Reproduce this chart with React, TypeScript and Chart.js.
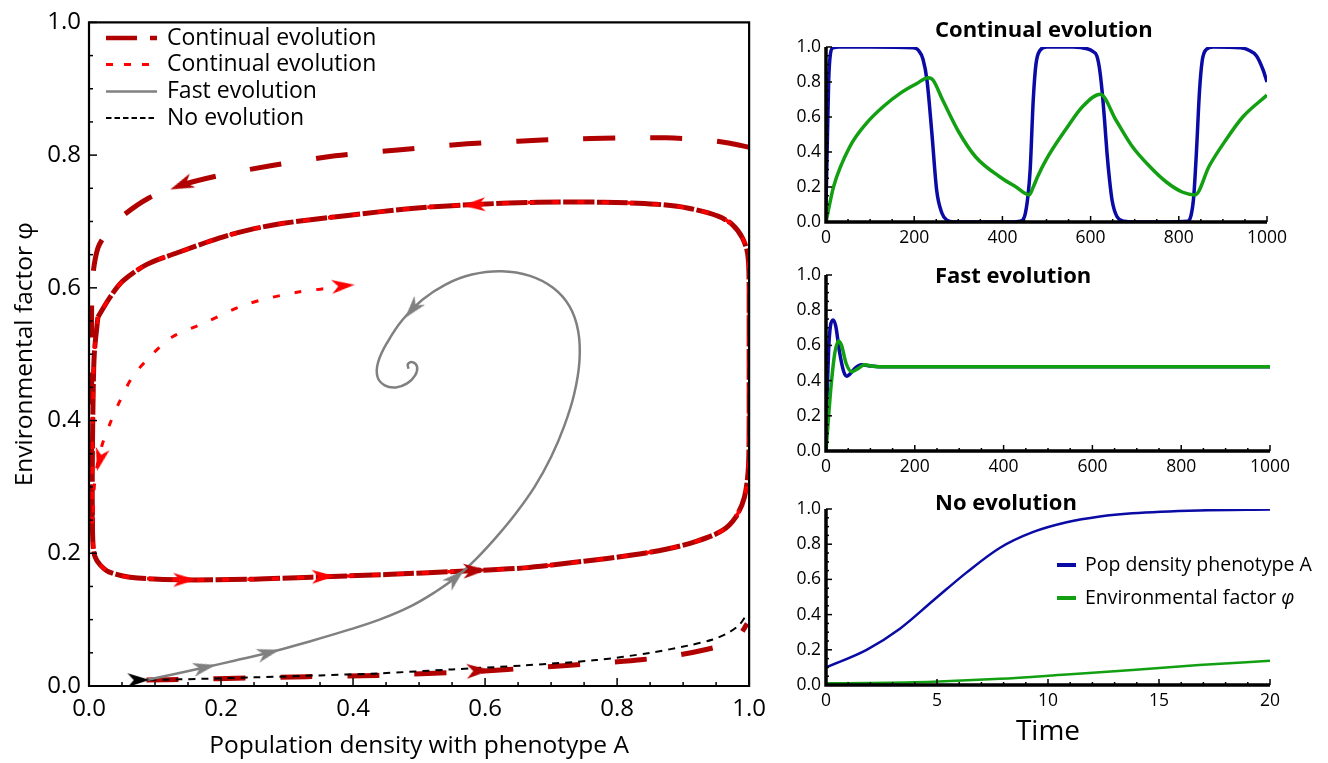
import React, { useEffect, useRef } from 'react';
import { Chart, registerables } from 'chart.js';

Chart.register(...registerables);

const FONT = '"Open Sans", "Noto Sans", sans-serif';

// ---------------- Phase plane (left) data ----------------
const outerTrajectory = [
  { x: 0.999, y: 0.812 }, { x: 0.971, y: 0.818 }, { x: 0.93, y: 0.823 }, { x: 0.874, y: 0.826 },
  { x: 0.8, y: 0.826 }, { x: 0.723, y: 0.824 }, { x: 0.65, y: 0.821 }, { x: 0.573, y: 0.817 },
  { x: 0.472, y: 0.808 }, { x: 0.373, y: 0.799 }, { x: 0.275, y: 0.784 }, { x: 0.2, y: 0.77 },
  { x: 0.137, y: 0.754 }, { x: 0.09, y: 0.735 }, { x: 0.047, y: 0.705 }, { x: 0.025, y: 0.68 },
  { x: 0.0135, y: 0.66 }, { x: 0.006, y: 0.62 }, { x: 0.004, y: 0.57 }, { x: 0.004, y: 0.5 },
  { x: 0.004, y: 0.4 }, { x: 0.004, y: 0.3 }, { x: 0.005, y: 0.24 },
];

const limitCycle = [
  { x: 0.0135, y: 0.556 }, { x: 0.008, y: 0.5 }, { x: 0.006, y: 0.42 }, { x: 0.005, y: 0.33 },
  { x: 0.005, y: 0.26 }, { x: 0.006, y: 0.215 }, { x: 0.009, y: 0.195 }, { x: 0.0165, y: 0.183 },
  { x: 0.03, y: 0.172 }, { x: 0.062, y: 0.164 }, { x: 0.137, y: 0.16 }, { x: 0.25, y: 0.161 },
  { x: 0.337, y: 0.164 }, { x: 0.45, y: 0.168 }, { x: 0.562, y: 0.173 }, { x: 0.659, y: 0.178 },
  { x: 0.75, y: 0.188 }, { x: 0.82, y: 0.197 }, { x: 0.874, y: 0.206 }, { x: 0.92, y: 0.218 },
  { x: 0.959, y: 0.234 }, { x: 0.98, y: 0.255 }, { x: 0.993, y: 0.285 }, { x: 0.999, y: 0.33 },
  { x: 1.0, y: 0.4 }, { x: 1.0, y: 0.5 }, { x: 1.0, y: 0.6 }, { x: 0.998, y: 0.65 },
  { x: 0.99, y: 0.675 }, { x: 0.975, y: 0.695 }, { x: 0.953, y: 0.708 }, { x: 0.908, y: 0.72 },
  { x: 0.859, y: 0.726 }, { x: 0.78, y: 0.729 }, { x: 0.68, y: 0.729 }, { x: 0.593, y: 0.726 },
  { x: 0.493, y: 0.72 }, { x: 0.392, y: 0.709 }, { x: 0.292, y: 0.697 }, { x: 0.241, y: 0.687 },
  { x: 0.197, y: 0.675 }, { x: 0.137, y: 0.654 }, { x: 0.087, y: 0.635 }, { x: 0.051, y: 0.61 },
  { x: 0.032, y: 0.586 }, { x: 0.0135, y: 0.556 },
];

const bottomTrajectory = [
  { x: 0.087, y: 0.009 }, { x: 0.15, y: 0.01 }, { x: 0.238, y: 0.012 }, { x: 0.33, y: 0.014 },
  { x: 0.438, y: 0.016 }, { x: 0.588, y: 0.022 }, { x: 0.68, y: 0.028 }, { x: 0.768, y: 0.034 },
  { x: 0.84, y: 0.04 }, { x: 0.889, y: 0.046 }, { x: 0.935, y: 0.055 }, { x: 0.968, y: 0.064 },
  { x: 0.985, y: 0.076 }, { x: 0.997, y: 0.094 },
];

const dottedTrajectory = [
  { x: 0.388, y: 0.602 }, { x: 0.313, y: 0.593 }, { x: 0.238, y: 0.575 }, { x: 0.177, y: 0.548 },
  { x: 0.126, y: 0.526 }, { x: 0.096, y: 0.5 }, { x: 0.066, y: 0.466 }, { x: 0.047, y: 0.43 },
  { x: 0.032, y: 0.396 }, { x: 0.0195, y: 0.362 }, { x: 0.012, y: 0.33 }, { x: 0.008, y: 0.3 },
  { x: 0.006, y: 0.25 },
];

const fastTrajectory = [
  { x: 0.087, y: 0.009 }, { x: 0.13, y: 0.018 }, { x: 0.175, y: 0.028 }, { x: 0.22, y: 0.038 },
  { x: 0.272, y: 0.05 }, { x: 0.33, y: 0.066 }, { x: 0.388, y: 0.083 }, { x: 0.44, y: 0.1 },
  { x: 0.487, y: 0.12 }, { x: 0.525, y: 0.142 }, { x: 0.555, y: 0.163 }, { x: 0.585, y: 0.19 },
  { x: 0.615, y: 0.222 }, { x: 0.645, y: 0.258 }, { x: 0.675, y: 0.3 }, { x: 0.7, y: 0.345 },
  { x: 0.72, y: 0.392 }, { x: 0.735, y: 0.44 }, { x: 0.743, y: 0.49 }, { x: 0.741, y: 0.535 },
  { x: 0.728, y: 0.572 }, { x: 0.703, y: 0.6 }, { x: 0.668, y: 0.618 }, { x: 0.625, y: 0.625 },
  { x: 0.58, y: 0.62 }, { x: 0.54, y: 0.605 }, { x: 0.505, y: 0.582 }, { x: 0.475, y: 0.552 },
  { x: 0.452, y: 0.518 }, { x: 0.438, y: 0.488 }, { x: 0.437, y: 0.466 }, { x: 0.448, y: 0.453 },
  { x: 0.465, y: 0.45 }, { x: 0.482, y: 0.456 }, { x: 0.494, y: 0.468 }, { x: 0.497, y: 0.481 },
  { x: 0.49, y: 0.488 }, { x: 0.483, y: 0.485 }, { x: 0.484, y: 0.478 },
];

const noEvolutionTrajectory = [
  { x: 0.072, y: 0.009 }, { x: 0.137, y: 0.01 }, { x: 0.25, y: 0.013 }, { x: 0.35, y: 0.016 },
  { x: 0.438, y: 0.019 }, { x: 0.55, y: 0.025 }, { x: 0.659, y: 0.031 }, { x: 0.768, y: 0.039 },
  { x: 0.85, y: 0.05 }, { x: 0.908, y: 0.061 }, { x: 0.945, y: 0.07 }, { x: 0.968, y: 0.08 },
  { x: 0.985, y: 0.092 }, { x: 0.997, y: 0.109 },
];

// arrow heads: position (x, y) and a point (tx, ty) further along the curve
const arrowsDarkRed = [
  { x: 0.14, y: 0.755, tx: 0.09, ty: 0.735 },
  { x: 0.59, y: 0.023, tx: 0.68, ty: 0.028 },
  { x: 0.585, y: 0.174, tx: 0.66, ty: 0.178 },
];
const arrowsRed = [
  { x: 0.145, y: 0.16, tx: 0.25, ty: 0.161 },
  { x: 0.355, y: 0.165, tx: 0.45, ty: 0.168 },
  { x: 0.583, y: 0.725, tx: 0.49, ty: 0.72 },
  { x: 0.385, y: 0.603, tx: 0.45, ty: 0.609 },
  { x: 0.0165, y: 0.341, tx: 0.009, ty: 0.311 },
];
const arrowsGray = [
  { x: 0.175, y: 0.028, tx: 0.22, ty: 0.038 },
  { x: 0.272, y: 0.05, tx: 0.33, ty: 0.066 },
  { x: 0.555, y: 0.163, tx: 0.585, ty: 0.19 },
  { x: 0.49, y: 0.568, tx: 0.465, ty: 0.538 },
];
const arrowsBlack = [{ x: 0.075, y: 0.009, tx: 0.137, ty: 0.01 }];

const phaseTicks = [0, 0.2, 0.4, 0.6, 0.8, 1.0];
const mainLegendLabels = ['Continual evolution', 'Continual evolution', 'Fast evolution', 'No evolution'];
const mainXTitle = 'Population density with phenotype A';
const mainYTitle = 'Environmental factor φ';

// ---------------- Time series (right) data ----------------
const contPopT = [0, 3, 6, 10, 16, 30, 100, 198, 210, 220, 229, 240, 251, 263, 274, 290, 400, 440, 450, 458, 463, 470, 476, 485, 500, 560, 592, 605, 614, 620, 626, 632, 637, 643, 649, 660, 676, 700, 820, 828, 834, 840, 847, 853, 862, 878, 940, 960, 976, 991, 1000];
const contPopY = [0.1, 0.45, 0.8, 0.96, 0.995, 1.0, 1.0, 0.995, 0.98, 0.93, 0.81, 0.51, 0.18, 0.05, 0.01, 0.0, 0.0, 0.005, 0.03, 0.15, 0.3, 0.7, 0.9, 0.98, 1.0, 1.0, 0.99, 0.975, 0.95, 0.88, 0.75, 0.57, 0.4, 0.24, 0.12, 0.03, 0.005, 0.0, 0.005, 0.04, 0.15, 0.4, 0.75, 0.92, 0.985, 1.0, 0.995, 0.98, 0.95, 0.87, 0.8];
const contEnvT = [0, 17, 54, 92, 130, 168, 205, 232, 243, 264, 302, 340, 393, 431, 461, 470, 480, 499, 544, 582, 622, 658, 695, 733, 771, 809, 837, 869, 907, 945, 1000];
const contEnvY = [0, 0.2, 0.43, 0.565, 0.66, 0.735, 0.79, 0.825, 0.81, 0.7, 0.51, 0.37, 0.26, 0.2, 0.155, 0.2, 0.26, 0.355, 0.53, 0.66, 0.73, 0.58, 0.43, 0.32, 0.23, 0.17, 0.155, 0.32, 0.47, 0.6, 0.725];

const fastPopT = [0, 3, 6, 10, 16, 22, 30, 40, 47, 55, 65, 80, 95, 120, 160, 1000];
const fastPopY = [0.1, 0.35, 0.58, 0.71, 0.745, 0.71, 0.57, 0.45, 0.425, 0.44, 0.47, 0.49, 0.485, 0.478, 0.478, 0.478];
const fastEnvT = [0, 5, 10, 15, 20, 28, 35, 45, 58, 70, 87, 105, 130, 1000];
const fastEnvY = [0, 0.17, 0.33, 0.46, 0.56, 0.625, 0.6, 0.5, 0.45, 0.465, 0.49, 0.482, 0.478, 0.478];

const noEvoPopT = [0, 1.83, 3.33, 4.83, 6.34, 7.84, 9.34, 10.84, 12.34, 13.8, 16.8, 20];
const noEvoPopY = [0.1, 0.2, 0.32, 0.48, 0.64, 0.78, 0.87, 0.925, 0.958, 0.976, 0.992, 0.997];
const noEvoEnvT = [0, 2, 4.83, 7.84, 10.84, 13.8, 16.8, 20];
const noEvoEnvY = [0.01, 0.012, 0.019, 0.035, 0.06, 0.085, 0.113, 0.138];

const panelYTicks = [0, 0.2, 0.4, 0.6, 0.8, 1.0];
const longTimeTicks = [0, 200, 400, 600, 800, 1000];
const shortTimeTicks = [0, 5, 10, 15, 20];
const panelTitles = ['Continual evolution', 'Fast evolution', 'No evolution'];
const panelLegendLabels = ['Pop density phenotype A', 'Environmental factor '];
const panelLegendSymbol = 'φ';
const timeTitle = 'Time';

// ---------------- styles ----------------
const DARK_RED = '#b00000';
const RED = '#ff0000';
const GRAY = '#808080';
const BLACK = '#000000';
const BLUE = '#0a0aa5';
const GREEN = '#12a012';

const zip = (t: number[], y: number[]) => t.map((v, i) => ({ x: v, y: y[i] }));

function makeArrow(color: string, len: number, wid: number) {
  const c = document.createElement('canvas');
  const s = Math.ceil(Math.max(len, wid)) + 4;
  c.width = s;
  c.height = s;
  const g = c.getContext('2d')!;
  const cx = s / 2, cy = s / 2;
  g.fillStyle = color;
  g.beginPath();
  g.moveTo(cx, cy - len / 2);
  g.lineTo(cx + wid / 2, cy + len / 2);
  g.lineTo(cx, cy + len * 0.22);
  g.lineTo(cx - wid / 2, cy + len / 2);
  g.closePath();
  g.fill();
  return c;
}

function arrowRotation(c: any) {
  const r = c.raw;
  if (!r || r.tx === undefined) return 0;
  const xs = c.chart.scales.x, ys = c.chart.scales.y;
  const dx = xs.getPixelForValue(r.tx) - xs.getPixelForValue(r.x);
  const dy = ys.getPixelForValue(r.ty) - ys.getPixelForValue(r.y);
  return (Math.atan2(dx, -dy) * 180) / Math.PI;
}

function lineDs(data: any[], color: string, dash: number[], width: number, order: number, offset = 0, tension = 0.3) {
  return {
    data,
    showLine: true,
    borderColor: color,
    backgroundColor: color,
    borderWidth: width,
    borderDash: dash,
    borderDashOffset: offset,
    borderCapStyle: 'butt',
    pointRadius: 0,
    pointHoverRadius: 0,
    tension,
    fill: false,
    order,
  };
}

function arrowDs(data: any[], img: HTMLCanvasElement) {
  return {
    data,
    showLine: false,
    pointStyle: img,
    pointRadius: 6,
    rotation: arrowRotation,
    order: 0,
  };
}

// inward ticks + frame
function axesPlugin(spec: any) {
  return {
    id: 'axesDeco',
    afterDatasetsDraw(chart: any) {
      const { ctx, chartArea: a } = chart;
      const xs = chart.scales.x, ys = chart.scales.y;
      ctx.save();
      ctx.strokeStyle = '#000';
      ctx.lineWidth = spec.tickWidth;
      const draw = (s: any, sp: any, isX: boolean) => {
        const n = Math.round((s.max - s.min) / sp.minor);
        for (let i = 0; i <= n; i++) {
          const v = s.min + i * sp.minor;
          const q = v / sp.major;
          const major = Math.abs(q - Math.round(q)) < 1e-6;
          const len = major ? sp.majorLen : sp.minorLen;
          const p = s.getPixelForValue(v);
          ctx.beginPath();
          if (isX) {
            ctx.moveTo(p, a.bottom);
            ctx.lineTo(p, a.bottom - len);
          } else {
            ctx.moveTo(a.left, p);
            ctx.lineTo(a.left + len, p);
          }
          ctx.stroke();
        }
      };
      draw(xs, spec.x, true);
      draw(ys, spec.y, false);
      ctx.lineWidth = spec.axisWidth;
      ctx.beginPath();
      if (spec.box) {
        ctx.rect(a.left, a.top, a.right - a.left, a.bottom - a.top);
      } else {
        ctx.moveTo(a.left, a.top);
        ctx.lineTo(a.left, a.bottom);
        ctx.lineTo(a.right, a.bottom);
      }
      ctx.stroke();
      ctx.restore();
    },
  };
}

// titles and legends drawn on the canvas
function decoPlugin(items: any) {
  return {
    id: 'deco',
    afterDraw(chart: any) {
      const ctx = chart.ctx;
      ctx.save();
      (items.texts || []).forEach((t: any) => {
        ctx.font = t.font;
        ctx.fillStyle = '#000';
        ctx.textAlign = 'left';
        ctx.textBaseline = 'alphabetic';
        ctx.fillText(t.text, t.x, t.y);
      });
      (items.legend || []).forEach((e: any) => {
        ctx.beginPath();
        ctx.strokeStyle = e.color;
        ctx.lineWidth = e.width;
        ctx.lineCap = 'butt';
        ctx.setLineDash(e.dash || []);
        ctx.moveTo(e.x0, e.y);
        ctx.lineTo(e.x1, e.y);
        ctx.stroke();
        ctx.setLineDash([]);
        ctx.fillStyle = '#000';
        ctx.textBaseline = 'middle';
        ctx.textAlign = 'left';
        let x = e.tx;
        (e.parts || []).forEach((p: any) => {
          ctx.font = p.font;
          ctx.fillText(p.text, x, e.y);
          x += ctx.measureText(p.text).width;
        });
      });
      ctx.restore();
    },
  };
}

function linearScale(opts: any) {
  const { min, max, ticks, fmt, size, padding, fit, isX, title } = opts;
  return {
    type: 'linear',
    min,
    max,
    afterBuildTicks: (s: any) => {
      s.ticks = ticks.map((v: number) => ({ value: v }));
    },
    afterFit: (s: any) => {
      if (isX) s.height = fit;
      else s.width = fit;
    },
    grid: { display: false, drawTicks: false },
    border: { display: false },
    ticks: {
      font: { family: FONT, size },
      color: '#000',
      padding,
      maxRotation: 0,
      autoSkip: false,
      callback: (v: any) => fmt(Number(v)),
    },
    title: title || { display: false },
  };
}

function mainConfig() {
  const legendX0 = 106, legendX1 = 157, legendTX = 167;
  const lf = `23px ${FONT}`;
  return {
    type: 'scatter',
    data: {
      datasets: [
        arrowDs(arrowsBlack, makeArrow(BLACK, 22, 14)),
        arrowDs(arrowsGray, makeArrow(GRAY, 23, 14)),
        arrowDs(arrowsRed, makeArrow(RED, 23, 14)),
        arrowDs(arrowsDarkRed, makeArrow(DARK_RED, 24, 15)),
        lineDs(fastTrajectory, GRAY, [], 2.5, 1, 0, 0.4),
        lineDs(noEvolutionTrajectory, BLACK, [7, 6], 2, 2),
        lineDs(dottedTrajectory, RED, [7, 15], 3, 3),
        lineDs(limitCycle, RED, [7, 18], 3.5, 4),
        lineDs(limitCycle, DARK_RED, [31, 36], 5, 5),
        lineDs(limitCycle, DARK_RED, [31, 36], 5, 5, 33.5),
        lineDs(outerTrajectory, DARK_RED, [32, 35], 5, 5),
        lineDs(bottomTrajectory, DARK_RED, [32, 35], 5, 5),
      ],
    },
    options: {
      responsive: false,
      animation: false,
      events: [],
      layout: { padding: { left: 0, top: 15, right: 21, bottom: 0 } },
      plugins: { legend: { display: false }, tooltip: { enabled: false }, title: { display: false } },
      scales: {
        x: linearScale({
          min: 0, max: 1, ticks: phaseTicks, fmt: (v: number) => v.toFixed(1), size: 24, padding: 9, fit: 77, isX: true,
          title: { display: true, text: mainXTitle, color: '#000', font: { family: FONT, size: 24.5 }, padding: { top: 0, bottom: 2 } },
        }),
        y: linearScale({
          min: 0, max: 1, ticks: phaseTicks, fmt: (v: number) => v.toFixed(1), size: 24, padding: 8, fit: 89, isX: false,
          title: { display: true, text: mainYTitle, color: '#000', font: { family: FONT, size: 24.5 }, padding: { top: 10, bottom: 0 } },
        }),
      },
    },
    plugins: [
      axesPlugin({
        tickWidth: 1.5, axisWidth: 2.2, box: true,
        x: { minor: 0.05, major: 0.2, minorLen: 4, majorLen: 8 },
        y: { minor: 0.05, major: 0.2, minorLen: 4, majorLen: 8 },
      }),
      decoPlugin({
        legend: [
          { x0: legendX0, x1: legendX1, y: 38, color: DARK_RED, width: 4.5, dash: [31, 13], tx: legendTX, parts: [{ text: mainLegendLabels[0], font: lf }] },
          { x0: legendX0, x1: legendX1, y: 64.5, color: RED, width: 3, dash: [7, 11], tx: legendTX, parts: [{ text: mainLegendLabels[1], font: lf }] },
          { x0: legendX0, x1: legendX1, y: 91.5, color: GRAY, width: 2.5, dash: [], tx: legendTX, parts: [{ text: mainLegendLabels[2], font: lf }] },
          { x0: legendX0, x1: legendX1, y: 118, color: BLACK, width: 2, dash: [5.5, 3], tx: legendTX, parts: [{ text: mainLegendLabels[3], font: lf }] },
        ],
      }),
    ],
  };
}

function panelConfig(p: any) {
  const datasets = [
    {
      data: zip(p.popT, p.popY), showLine: true, borderColor: BLUE, borderWidth: p.lw, pointRadius: 0,
      cubicInterpolationMode: 'monotone', fill: false, order: 2,
    },
    {
      data: zip(p.envT, p.envY), showLine: true, borderColor: GREEN, borderWidth: p.lw, pointRadius: 0,
      cubicInterpolationMode: 'monotone', fill: false, order: 1,
    },
  ];
  return {
    type: 'scatter',
    data: { datasets },
    options: {
      responsive: false,
      animation: false,
      events: [],
      layout: { padding: { left: 0, top: p.top, right: p.right, bottom: 0 } },
      plugins: { legend: { display: false }, tooltip: { enabled: false }, title: { display: false } },
      scales: {
        x: linearScale({
          min: 0, max: p.xMax, ticks: p.xTicks, fmt: (v: number) => String(v), size: 17.5, padding: 6, fit: p.xHeight, isX: true,
          title: p.xTitle,
        }),
        y: linearScale({
          min: 0, max: 1, ticks: panelYTicks, fmt: (v: number) => v.toFixed(1), size: 17.5, padding: 5, fit: 36, isX: false,
        }),
      },
    },
    plugins: [
      axesPlugin({
        tickWidth: 1.5, axisWidth: 3.5, box: false,
        x: { minor: p.xMinor, major: p.xMajor, minorLen: 3, majorLen: 6 },
        y: { minor: 0.05, major: 0.2, minorLen: 3, majorLen: 6 },
      }),
      decoPlugin({
        texts: [{ text: p.title, x: 145, y: p.titleY, font: `bold 22px ${FONT}` }],
        legend: p.legend || [],
      }),
    ],
  };
}

function ChartBox({ left, top, width, height, make }: any) {
  const ref = useRef<HTMLCanvasElement>(null);
  useEffect(() => {
    const chart = new Chart(ref.current as any, make());
    return () => chart.destroy();
  }, []);
  return (
    <div style={{ position: 'absolute', left, top, width, height }}>
      <canvas ref={ref} width={width} height={height} style={{ display: 'block' }} />
    </div>
  );
}

export default function App() {
  const lf = `19.5px ${FONT}`;
  const lfi = `italic 19.5px ${FONT}`;
  return (
    <div style={{ position: 'absolute', left: 0, top: 0, width: 1328, height: 763, background: '#fff' }}>
      <ChartBox left={0} top={0} width={775} height={763} make={mainConfig} />
      <ChartBox
        left={790} top={0} width={538} height={255}
        make={() => panelConfig({
          popT: contPopT, popY: contPopY, envT: contEnvT, envY: contEnvY, lw: 3.5,
          top: 47, right: 61, xMax: 1000, xTicks: longTimeTicks, xMinor: 50, xMajor: 200, xHeight: 33,
          title: panelTitles[0], titleY: 37,
        })}
      />
      <ChartBox
        left={790} top={255} width={538} height={233}
        make={() => panelConfig({
          popT: fastPopT, popY: fastPopY, envT: fastEnvT, envY: fastEnvY, lw: 3.5,
          top: 20, right: 58, xMax: 1000, xTicks: longTimeTicks, xMinor: 50, xMajor: 200, xHeight: 37,
          title: panelTitles[1], titleY: 28,
        })}
      />
      <ChartBox
        left={790} top={488} width={538} height={275}
        make={() => panelConfig({
          popT: noEvoPopT, popY: noEvoPopY, envT: noEvoEnvT, envY: noEvoEnvY, lw: 2.5,
          top: 21, right: 58, xMax: 20, xTicks: shortTimeTicks, xMinor: 1, xMajor: 5, xHeight: 78,
          title: panelTitles[2], titleY: 22,
          xTitle: { display: true, text: timeTitle, color: '#000', font: { family: FONT, size: 28 }, padding: { top: 0, bottom: 14 } },
          legend: [
            { x0: 267, x1: 286, y: 77, color: BLUE, width: 4, tx: 295, parts: [{ text: panelLegendLabels[0], font: lf }] },
            { x0: 267, x1: 286, y: 110, color: GREEN, width: 4, tx: 295, parts: [{ text: panelLegendLabels[1], font: lf }, { text: panelLegendSymbol, font: lfi }] },
          ],
        })}
      />
    </div>
  );
}
